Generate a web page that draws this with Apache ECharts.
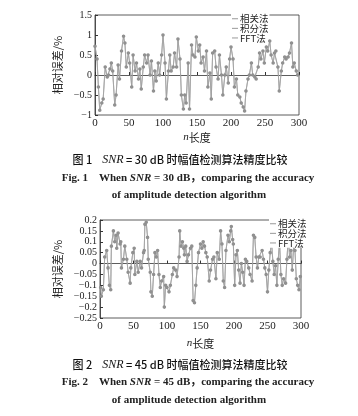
<!DOCTYPE html>
<html><head><meta charset="utf-8">
<script src="https://cdn.jsdelivr.net/npm/echarts@6/dist/echarts.min.js"></script>
<style>html,body{margin:0;padding:0;background:#fff;}#c{width:358px;height:416px;}</style>
</head><body><div id="c"></div>
<script>
// Figure 1 (SNR = 30 dB): sample index n and relative error (%)
var n1 = [0,3,5,7,10,12,15,18,20,22,24,26,29,31,34,36,39,42,44,46,49,51,54,56,59,61,64,66,68,71,73,76,78,81,83,86,88,90,93,95,98,100,103,105,108,110,112,115,117,120,122,125,127,130,132,134,137,139,142,144,147,149,152,154,156,159,161,164,166,169,171,173,176,178,181,183,186,188,191,193,196,198,200,203,205,208,210,213,215,218,220,222,225,227,230,232,235,237,240,242,244,247,249,252,254,257,259,262,264,266,269,271,274,276,279,281,284,286,289,291,293,296,298];
var err1 = [0.72,0.4,-0.3,-0.88,-0.7,-0.6,0.2,-0.05,0.0,0.15,0.3,0.1,-0.75,-0.5,0.25,-0.1,0.6,0.97,0.8,0.2,0.55,0.3,-0.3,0.5,0.1,0.3,-0.1,0.15,-0.35,0.2,0.5,0.3,0.5,0.0,0.35,-0.4,0.1,-0.15,0.3,0.0,0.5,1.0,0.3,-0.6,0.1,0.5,0.1,0.2,0.55,0.2,0.9,0.4,-0.5,-0.85,-0.5,-0.7,0.3,-0.85,0.75,0.5,0.45,0.95,0.6,0.75,0.3,0.45,0.1,0.6,-0.3,0.05,-0.6,0.55,0.6,0.2,-0.1,0.5,0.0,-0.5,0.0,0.2,-0.2,0.4,0.7,0.4,-0.3,-0.1,-0.5,-0.55,-0.7,-0.8,-0.9,-0.4,-0.1,0.0,0.3,0.0,-0.05,-0.1,0.2,0.55,0.4,0.6,0.3,0.7,0.6,0.85,0.5,0.3,0.55,0.6,0.2,-0.4,0.1,0.3,0.45,0.4,0.45,0.55,0.8,0.2,0.3,0.1,0.0];
// Figure 2 (SNR = 45 dB)
var n2 = [1,2,5,7,10,12,14,16,17,20,22,24,25,27,30,31,32,35,37,40,42,45,46,49,51,52,55,57,60,62,65,66,67,69,71,72,75,76,78,80,82,84,86,88,90,92,95,96,98,100,103,105,108,110,113,115,118,119,121,123,125,126,128,130,132,135,137,139,141,143,145,147,150,152,154,156,158,160,163,165,168,170,173,175,178,180,182,184,186,188,191,193,195,196,198,199,201,203,205,207,209,211,213,215,217,219,222,224,227,229,231,233,235,237,239,242,244,246,248,250,252,254,256,258,260,262,264,266,268,270,272,274,277,279,281,283,285,287,289,291,293,295,297,299];
var err2 = [-0.11,-0.15,-0.12,0.03,0.06,-0.02,-0.1,-0.12,0.08,0.15,0.1,0.13,0.07,0.14,0.09,0.1,-0.02,0.02,0.08,0.02,-0.04,-0.09,-0.02,0.05,0.07,-0.05,0.01,-0.04,0.01,-0.02,0.05,0.06,0.18,0.19,0.12,0.02,-0.04,-0.13,-0.15,-0.05,0.05,0.03,0.06,-0.05,-0.11,-0.08,-0.06,-0.2,-0.1,-0.11,-0.13,-0.1,-0.05,-0.02,-0.03,-0.06,0.03,0.15,0.08,0.1,0.07,0.04,0.08,0.01,0.04,0.07,0.08,-0.17,-0.18,-0.1,-0.02,0.05,0.09,0.07,0.1,0.08,0.05,0.03,-0.08,-0.03,0.02,0.03,-0.07,0.05,0.02,0.15,0.09,-0.08,-0.11,0.06,0.13,0.1,0.15,0.17,0.11,0.09,-0.1,0.04,0.06,-0.03,-0.09,0.0,-0.04,-0.1,0.02,0.01,-0.02,-0.05,-0.08,0.13,0.12,0.03,-0.02,0.03,0.03,0.06,0.02,-0.02,-0.05,-0.13,-0.03,0.05,0.1,0.01,-0.05,-0.01,-0.1,0.02,0.1,-0.05,-0.1,-0.07,-0.09,0.02,0.12,0.03,0.06,-0.03,0.08,0.06,-0.07,-0.1,-0.12,-0.06];
var methods = ['相关法','积分法','FFT法'];
var xTicks = {min:0, max:300, interval:50};
var yTicks1 = {min:-1, max:1.5, interval:0.5};
var yTicks2 = {min:-0.25, max:0.2, interval:0.05};

function pairs(xs, ys){ return xs.map(function(x,i){return [x, ys[i]];}); }
var serifF = '"Liberation Serif", "Noto Sans CJK SC", serif';
var cjkF = '"Noto Sans CJK SC", "Liberation Serif", serif';
function fmt(v){ var s = String(parseFloat(v.toFixed(2))); return s.replace('-', '\u2212'); }

var symbols = ['none','emptyCircle','circle'];
var series = [];
[[n1,err1],[n2,err2]].forEach(function(d,gi){
  methods.forEach(function(m,k){
    series.push({
      name:m, type:'line', xAxisIndex:gi, yAxisIndex:gi,
      data:pairs(d[0], d[1]),
      symbol:symbols[k], symbolSize:1.6, showSymbol:k>0,
      lineStyle:{color:'#a0a0a0', width:0.6},
      itemStyle:{color:'#909090', borderColor:'#909090', borderWidth:0.5},
      animation:false, silent:true
    });
  });
});

function xAxis(gi){
  return {type:'value', gridIndex:gi, min:xTicks.min, max:xTicks.max, interval:xTicks.interval,
    name:'{i|n}长度', nameLocation:'middle', nameGap:gi===0?17:20,
    nameTextStyle:{fontFamily:cjkF, fontSize:11, color:'#222', rich:{i:{fontStyle:'italic', fontFamily:serifF, fontSize:11, color:'#222'}}},
    axisLine:{lineStyle:{color:'#333', width:0.8}},
    axisTick:{inside:true, length:3, lineStyle:{color:'#333'}},
    axisLabel:{fontFamily:serifF, fontSize:11, color:'#222', margin:3},
    splitLine:{show:false}};
}
function yAxis(gi, t, gap){
  return {type:'value', gridIndex:gi, min:t.min, max:t.max, interval:t.interval,
    name:'相对误差/%', nameLocation:'middle', nameGap:gap,
    nameTextStyle:{fontFamily:cjkF, fontSize:11, color:'#222'},
    axisLine:{show:true, lineStyle:{color:'#333', width:0.8}},
    axisTick:{show:true, inside:true, length:3, lineStyle:{color:'#333'}},
    axisLabel:{fontFamily:serifF, fontSize:10, color:'#222', margin:3, formatter:fmt},
    splitLine:{show:false}};
}
function legendItem(name, left, top){
  return {data:[{name:name, icon:'rect', itemStyle:{color:'#999', borderWidth:0}}],
    left:left, top:top, itemWidth:6, itemHeight:1, padding:[0,1,0,1], backgroundColor:'#fff',
    textStyle:{fontFamily:cjkF, fontSize:9.5, color:'#222', padding:[0,0,0,-3], lineHeight:9.5},
    selectedMode:false, itemStyle:{color:'#999', borderWidth:0}, lineStyle:{width:0}};
}
var legends = [];
methods.forEach(function(m,k){
  legends.push(legendItem(m, 231, 14 + k*9.6));
  legends.push(legendItem(m, 269, 219 + k*9.6));
});

var chart = echarts.init(document.getElementById('c'), null, {renderer:'canvas'});
chart.setOption({
  backgroundColor:'#fff',
  animation:false,
  grid:[
    {left:95, top:15, width:204, height:100, show:true, borderColor:'#333', borderWidth:0.8, backgroundColor:'transparent'},
    {left:100, top:220, width:201, height:98, show:true, borderColor:'#333', borderWidth:0.8, backgroundColor:'transparent'}
  ],
  xAxis:[xAxis(0), xAxis(1)],
  yAxis:[yAxis(0, yTicks1, 25), yAxis(1, yTicks2, 31)],
  legend:legends,
  graphic:[
    {type:'text', x:180, y:160, style:{text:'{b|图 1}    {i|SNR} = 30 dB 时幅值检测算法精度比较', textAlign:'center', textVerticalAlign:'middle',
      fontFamily:cjkF, fontSize:11, fontWeight:500, fill:'#111',
      rich:{b:{fontFamily:cjkF, fontSize:11, fontWeight:500, fill:'#111'}, i:{fontFamily:serifF, fontStyle:'italic', fontSize:12, fill:'#111'}}}},
    {type:'text', x:188, y:178, style:{text:'Fig. 1    When {i|SNR} = 30 dB，comparing the accuracy', textAlign:'center', textVerticalAlign:'middle',
      fontFamily:serifF, fontSize:11, fontWeight:'bold', fill:'#222',
      rich:{i:{fontFamily:serifF, fontStyle:'italic', fontWeight:'bold', fontSize:11, fill:'#222'}}}},
    {type:'text', x:189, y:195, style:{text:'of amplitude detection algorithm', textAlign:'center', textVerticalAlign:'middle',
      fontFamily:serifF, fontSize:11, fontWeight:'bold', fill:'#222'}},
    {type:'text', x:180, y:365, style:{text:'{b|图 2}    {i|SNR} = 45 dB 时幅值检测算法精度比较', textAlign:'center', textVerticalAlign:'middle',
      fontFamily:cjkF, fontSize:11, fontWeight:500, fill:'#111',
      rich:{b:{fontFamily:cjkF, fontSize:11, fontWeight:500, fill:'#111'}, i:{fontFamily:serifF, fontStyle:'italic', fontSize:12, fill:'#111'}}}},
    {type:'text', x:188, y:382, style:{text:'Fig. 2    When {i|SNR} = 45 dB，comparing the accuracy', textAlign:'center', textVerticalAlign:'middle',
      fontFamily:serifF, fontSize:11, fontWeight:'bold', fill:'#222',
      rich:{i:{fontFamily:serifF, fontStyle:'italic', fontWeight:'bold', fontSize:11, fill:'#222'}}}},
    {type:'text', x:189, y:400, style:{text:'of amplitude detection algorithm', textAlign:'center', textVerticalAlign:'middle',
      fontFamily:serifF, fontSize:11, fontWeight:'bold', fill:'#222'}}
  ],
  series:series
});
</script></body></html>
